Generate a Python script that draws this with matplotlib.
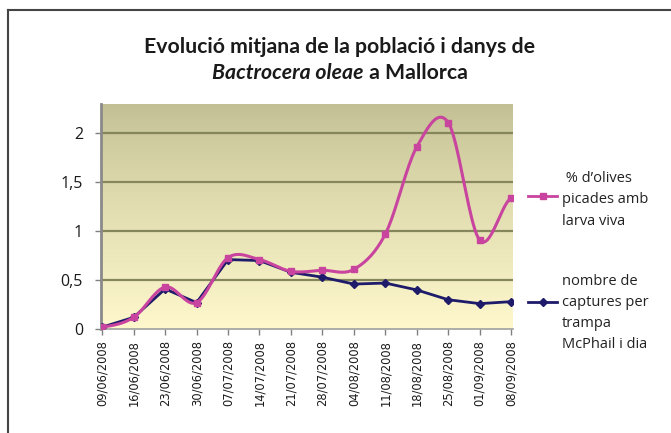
import numpy as np
import matplotlib
matplotlib.use("Agg")
import matplotlib.pyplot as plt
from matplotlib.lines import Line2D

# dates (x categories)
dates = ["09/06/2008", "16/06/2008", "23/06/2008", "30/06/2008", "07/07/2008",
         "14/07/2008", "21/07/2008", "28/07/2008", "04/08/2008", "11/08/2008",
         "18/08/2008", "25/08/2008", "01/09/2008", "08/09/2008"]

# % d'olives picades amb larva viva
olives = [0.02, 0.12, 0.43, 0.27, 0.73, 0.71, 0.59, 0.60, 0.61, 0.97,
          1.86, 2.11, 0.91, 1.34]

# nombre de captures per trampa McPhail i dia
captures = [0.02, 0.12, 0.41, 0.27, 0.71, 0.70, 0.58, 0.53, 0.46, 0.47,
            0.40, 0.30, 0.26, 0.28]

yticks = [0, 0.5, 1, 1.5, 2]
ytick_labels = ["0", "0,5", "1", "1,5", "2"]

pink = "#c8449e"
navy = "#1e1b6a"


def smooth(xs, ys, n=20):
    # catmull-rom curve through the points (like excel's smoothed line)
    xs = np.asarray(xs, float)
    ys = np.asarray(ys, float)
    px = np.concatenate([[2 * xs[0] - xs[1]], xs, [2 * xs[-1] - xs[-2]]])
    py = np.concatenate([[ys[0]], ys, [ys[-1]]])
    outx, outy = [], []
    t = np.linspace(0, 1, n, endpoint=False)
    for i in range(1, len(px) - 2):
        for p, out in ((px, outx), (py, outy)):
            p0, p1, p2, p3 = p[i - 1], p[i], p[i + 1], p[i + 2]
            out.extend(0.5 * (2 * p1 + (-p0 + p2) * t
                              + (2 * p0 - 5 * p1 + 4 * p2 - p3) * t ** 2
                              + (-p0 + 3 * p1 - 3 * p2 + p3) * t ** 3))
    outx.append(xs[-1])
    outy.append(ys[-1])
    return np.array(outx), np.array(outy)


plt.rcParams['font.family'] = ['Open Sans', 'DejaVu Sans']

fig = plt.figure(figsize=(6.71, 4.33), dpi=100)
ax = fig.add_axes([0.1505, 0.240, 0.614, 0.520])

# background gradient
grad = np.linspace(0, 1, 256).reshape(-1, 1)
top_c = np.array([192, 190, 146]) / 255
bot_c = np.array([254, 248, 204]) / 255
img = top_c + (bot_c - top_c) * grad[:, :, None] ** 0.8
ax.imshow(img, extent=[0, 1, 0, 1], transform=ax.transAxes, aspect="auto", zorder=0)

x = np.arange(len(dates))
ax.set_xlim(-0.04, len(dates) - 1 + 0.06)
ax.set_ylim(0, 2.3)

for yv in yticks[1:]:
    ax.axhline(yv, color="#86865c", lw=1.6, zorder=1)

ax.plot(x, captures, color=navy, lw=2, zorder=3)
ax.plot(x, captures, ls="none", marker="D", ms=4, color=navy, zorder=4)

sx, sy = smooth(x, olives)
ax.plot(sx, sy, color=pink, lw=2.2, zorder=5)
ax.plot(x, olives, ls="none", marker="s", ms=5, color=pink, zorder=6)

ax.set_yticks(yticks)
ax.set_yticklabels(ytick_labels, fontsize=11.5, color="#1a1a1a")
ax.set_xticks(x)
ax.set_xticklabels(dates, rotation=90, fontsize=8.3, color="#1a1a1a", family="DejaVu Sans")
ax.tick_params(axis="both", length=4, width=1, color="#808080")
ax.tick_params(axis="y", pad=9)
ax.tick_params(axis="x", pad=4)

for s in ["top", "right"]:
    ax.spines[s].set_visible(False)
ax.spines["left"].set_color("#8a8a8a")
ax.spines["left"].set_linewidth(2)
ax.spines["bottom"].set_color("#a0a0a0")
ax.spines["bottom"].set_linewidth(1.2)

# frame around the chart (only top and left visible)
fig.add_artist(Line2D([8 / 671, 8 / 671], [0, 1 - 9.5 / 433], color="#444444", lw=1.5,
                      transform=fig.transFigure))
fig.add_artist(Line2D([8 / 671, 1], [1 - 9.5 / 433, 1 - 9.5 / 433], color="#444444", lw=1.5,
                      transform=fig.transFigure))

# title
tsize = 15.3
fig.text(340 / 671, 1 - 47 / 433, "Evolució mitjana de la població i danys de",
         ha="center", va="center", fontsize=tsize, fontweight="bold", family="Lato",
         color="#1a1a1a")
renderer = fig.canvas.get_renderer()
t1 = fig.text(0, 1 - 73 / 433, "Bactrocera oleae", ha="left", va="center",
              fontsize=tsize, fontweight="bold", style="italic", family="Lato", color="#1a1a1a")
t2 = fig.text(0, 1 - 73 / 433, " a Mallorca", ha="left", va="center",
              fontsize=tsize, fontweight="bold", family="Lato", color="#1a1a1a")
w1 = t1.get_window_extent(renderer).width
w2 = t2.get_window_extent(renderer).width
start = 340 - (w1 + w2) / 2
t1.set_x(start / 671)
t2.set_x((start + w1) / 671)

# legend
for yc, col, mk, ms in [(196, pink, "s", 5), (302, navy, "D", 4)]:
    yf = 1 - yc / 433
    fig.add_artist(Line2D([528 / 671, 557 / 671], [yf, yf], color=col, lw=2,
                          transform=fig.transFigure))
    fig.add_artist(Line2D([542.5 / 671], [yf], color=col, marker=mk, ms=ms,
                          transform=fig.transFigure))

fig.text(562 / 671, 1 - 200 / 433, " % d\u2019olives\npicades amb\nlarva viva",
         ha="left", va="center", fontsize=10.5, linespacing=1.55, color="#222222")
fig.text(562 / 671, 1 - 313 / 433, "nombre de\ncaptures per\ntrampa\nMcPhail i dia",
         ha="left", va="center", fontsize=10.5, linespacing=1.55, color="#222222")

fig.savefig("out.png", dpi=100)
